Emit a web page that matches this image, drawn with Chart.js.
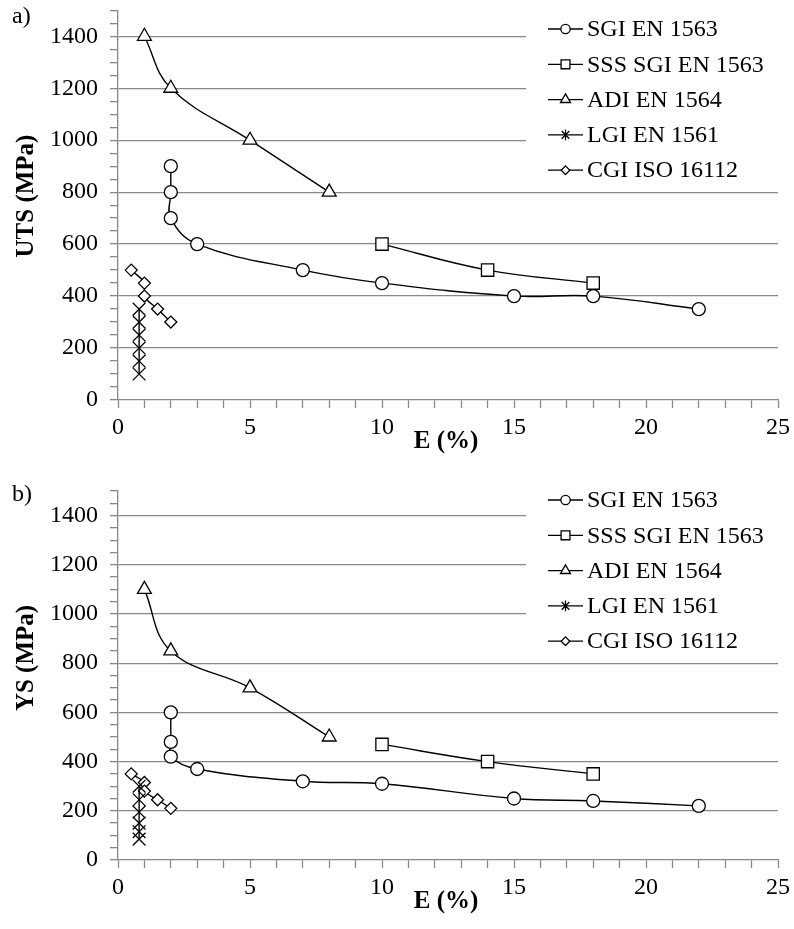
<!DOCTYPE html>
<html lang="en">
<head>
  <meta charset="UTF-8">
  <title>UTS and YS vs elongation</title>
  <script src="https://cdn.jsdelivr.net/npm/chart.js"></script>
  <style>
    body { margin: 0; background: #fff; }
    .panel { position: absolute; left: 0; width: 794px; }
  </style>
</head>
<body>
  <div class="panel" style="top:0;height:460px"><canvas id="utsChart"></canvas></div>
  <div class="panel" style="top:460px;height:469px"><canvas id="ysChart"></canvas></div>
  <script>
    const seriesNames = ['SGI EN 1563', 'SSS SGI EN 1563', 'ADI EN 1564', 'LGI EN 1561', 'CGI ISO 16112']
    const sgiE = [2, 2, 2, 3, 7, 10, 15, 18, 22]
    const sgiUts = [900, 800, 700, 600, 500, 450, 400, 400, 350]
    const sgiYs = [600, 480, 420, 370, 320, 310, 250, 240, 220]
    const sssE = [10, 14, 18]
    const sssUts = [600, 500, 450]
    const sssYs = [470, 400, 350]
    const adiE = [1, 2, 5, 8]
    const adiUts = [1400, 1200, 1000, 800]
    const adiYs = [1100, 850, 700, 500]
    const lgiE = [0.8, 0.8, 0.8, 0.8, 0.8, 0.8]
    const lgiUts = [100, 150, 200, 250, 300, 350]
    const lgiYs = [85, 115, 150, 195, 245, 300]
    const cgiE = [0.5, 1, 1, 1.5, 2]
    const cgiUts = [500, 450, 400, 350, 300]
    const cgiYs = [350, 315, 280, 245, 210]

    const GRAY = '#888888'
    const FONT = 'Liberation Serif, Times New Roman, serif'
    const markers = [
      { style: 'circle', r: 6.5 },
      { style: 'rect', r: 8.7 },
      { style: 'triangle', r: 8 },
      { style: 'crossRot', r: 9 },
      { style: 'rectRot', r: 6 },
    ]

    const toPoints = (xs, ys) => xs.map((x, i) => ({ x: x, y: ys[i] }))

    function drawMarker(ctx, style, x, y, r) {
      ctx.beginPath()
      if (style === 'crossRot') {
        const d = r * 0.707
        ctx.moveTo(x - d, y - d); ctx.lineTo(x + d, y + d)
        ctx.moveTo(x + d, y - d); ctx.lineTo(x - d, y + d)
        ctx.moveTo(x, y - r); ctx.lineTo(x, y + r)
        ctx.stroke()
        return
      }
      if (style === 'circle') {
        ctx.arc(x, y, r, 0, Math.PI * 2)
      } else if (style === 'rect') {
        const s = r * 0.707
        ctx.rect(x - s, y - s, 2 * s, 2 * s)
      } else if (style === 'triangle') {
        ctx.moveTo(x, y - r)
        ctx.lineTo(x + r * 0.866, y + r / 2)
        ctx.lineTo(x - r * 0.866, y + r / 2)
        ctx.closePath()
      } else {
        ctx.moveTo(x, y - r); ctx.lineTo(x + r, y)
        ctx.lineTo(x, y + r); ctx.lineTo(x - r, y)
        ctx.closePath()
      }
      ctx.fill()
      ctx.stroke()
    }

    // legend + panel texts drawn on top of the chart
    const annotations = {
      id: 'annotations',
      afterDraw(chart, args, opts) {
        const ctx = chart.ctx
        ctx.save()
        // white legend box hides the grid lines behind it
        ctx.fillStyle = '#fff'
        ctx.fillRect(opts.box[0], opts.box[1], opts.box[2], opts.box[3])
        ctx.strokeStyle = '#000'
        ctx.lineWidth = 1.3
        ctx.font = '24px ' + FONT
        ctx.textBaseline = 'middle'
        seriesNames.forEach((name, i) => {
          const y = opts.legendY + i * 35.3
          ctx.beginPath()
          ctx.moveTo(548, y); ctx.lineTo(583, y)
          ctx.stroke()
          ctx.fillStyle = '#fff'
          const m = markers[i]
          drawMarker(ctx, m.style, 565.5, y, m.r * (i === 3 ? 0.6 : 0.72))
          ctx.fillStyle = '#000'
          ctx.textAlign = 'left'
          ctx.fillText(name, 587, y + 1)
        })
        // panel letter
        ctx.fillText(opts.letter, 12, opts.letterY)
        // axis titles
        ctx.font = 'bold 25px ' + FONT
        ctx.textAlign = 'center'
        ctx.fillText('E (%)', 446, opts.xTitleY)
        ctx.translate(27, opts.yTitleY)
        ctx.rotate(-Math.PI / 2)
        ctx.fillText(opts.yTitle, 0, 0)
        ctx.restore()
      }
    }

    function makeChart(id, ys, cfg) {
      const sets = [
        toPoints(sgiE, ys[0]), toPoints(sssE, ys[1]), toPoints(adiE, ys[2]),
        toPoints(lgiE, ys[3]), toPoints(cgiE, ys[4])
      ]
      const datasets = sets.map((data, i) => ({
        label: seriesNames[i],
        data: data,
        showLine: true,
        tension: i === 3 ? 0 : 0.4,
        borderColor: '#000',
        borderWidth: 1.4,
        backgroundColor: '#fff',
        pointStyle: markers[i].style,
        pointRadius: markers[i].r,
        pointBorderWidth: 1.3,
        pointBorderColor: '#000',
        pointBackgroundColor: '#fff',
      }))
      return new Chart(document.getElementById(id), {
        type: 'scatter',
        data: { datasets: datasets },
        plugins: [annotations],
        options: {
          responsive: true,
          maintainAspectRatio: false,
          animation: false,
          layout: { padding: { top: cfg.top, right: 16, left: 0, bottom: 0 } },
          plugins: {
            legend: { display: false },
            tooltip: { enabled: false },
            annotations: cfg.notes,
          },
          scales: {
            x: {
              type: 'linear',
              min: 0,
              max: 25,
              afterFit: (scale) => {
                scale.height = cfg.xHeight
                scale.paddingLeft = 0
                scale.paddingRight = 0
              },
              border: { color: GRAY, width: 1.3 },
              grid: { drawOnChartArea: false, tickColor: GRAY, tickLength: 8, tickWidth: 1.3 },
              ticks: {
                stepSize: 1,
                autoSkip: false,
                maxRotation: 0,
                padding: 5,
                color: '#000',
                font: { family: FONT, size: 24 },
                callback: (v) => v % 5 === 0 ? String(v) : '',
              },
            },
            y: {
              type: 'linear',
              min: 0,
              max: 1500,
              afterFit: (scale) => {
                scale.width = 118
                scale.paddingTop = 0
                scale.paddingBottom = 0
              },
              border: { color: GRAY, width: 1.3 },
              grid: {
                color: (c) => (c.tick && c.tick.value % 200 === 0 && c.tick.value > 0) ? GRAY : 'rgba(0,0,0,0)',
                lineWidth: 1.3,
                tickColor: GRAY,
                tickLength: 8,
                tickWidth: 1.3,
              },
              ticks: {
                stepSize: 50,
                autoSkip: false,
                padding: 12,
                color: '#000',
                font: (c) => (c.tick && c.tick.value % 200 === 0) ? { family: FONT, size: 24 } : { family: FONT, size: 2 },
                callback: (v) => v % 200 === 0 ? String(v) : '',
              },
            },
          },
        },
      })
    }

    makeChart('utsChart', [sgiUts, sssUts, adiUts, lgiUts, cgiUts], {
      top: 9,
      xHeight: 60,
      notes: { box: [526, 0, 268, 188], legendY: 29, letter: 'a)', letterY: 17, xTitleY: 442, yTitle: 'UTS (MPa)', yTitleY: 196 },
    })
    makeChart('ysChart', [sgiYs, sssYs, adiYs, lgiYs, cgiYs], {
      top: 31,
      xHeight: 69,
      notes: { box: [526, 20, 268, 178], legendY: 40, letter: 'b)', letterY: 35, xTitleY: 442, yTitle: 'YS (MPa)', yTitleY: 198 },
    })
  </script>
</body>
</html>
